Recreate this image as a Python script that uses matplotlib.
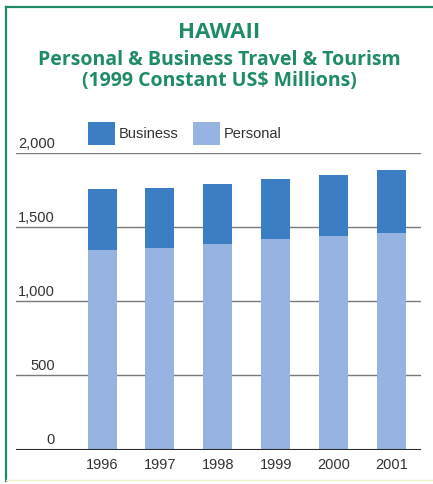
import matplotlib
matplotlib.use("Agg")
import matplotlib.pyplot as plt
from matplotlib.lines import Line2D
import numpy as np

# Hawaii travel & tourism spending, 1999 constant US$ millions
years = ["1996", "1997", "1998", "1999", "2000", "2001"]
personal = [1347, 1363, 1388, 1419, 1440, 1464]
business = [412, 405, 407, 405, 415, 421]
y_ticks = [0, 500, 1000, 1500, 2000]

GREEN = "#1f8c66"
BUS_COLOR = "#3b7ec3"
PER_COLOR = "#96b3e1"
TEXT = "#333333"

fig = plt.figure(figsize=(4.33, 4.84), dpi=100)
W, H = 433, 484

# frame on the left and top
fig.add_artist(Line2D([6 / W, 6 / W], [1 - 7 / H, 1 - 481 / H], color=GREEN, lw=1.6,
                      transform=fig.transFigure))
fig.add_artist(Line2D([6 / W, 1.0], [1 - 7 / H, 1 - 7 / H], color=GREEN, lw=1.6,
                      transform=fig.transFigure))
fig.add_artist(Line2D([6 / W, 1.0], [1 - 480 / H, 1 - 480 / H], color="#eef0c8", lw=1.0,
                      transform=fig.transFigure))

fig.text(219 / W, 1 - 32 / H, "HAWAII", ha="center", va="center", color=GREEN,
         fontsize=16, fontweight="bold", family="Open Sans")
fig.text(219 / W, 1 - 60 / H, "Personal & Business Travel & Tourism", ha="center",
         va="center", color=GREEN, fontsize=14, fontweight="bold", family="Open Sans")
fig.text(219 / W, 1 - 81 / H, "(1999 Constant US$ Millions)", ha="center",
         va="center", color=GREEN, fontsize=14, fontweight="bold", family="Open Sans")

ax_left, ax_right = 15.7, 420.7
ax_bottom, ax_top = 449.5, 153.3
ax = fig.add_axes([ax_left / W, 1 - ax_bottom / H, (ax_right - ax_left) / W,
                   (ax_bottom - ax_top) / H])

x = np.arange(len(years))
bw = 0.5
ax.set_axisbelow(True)
for v in y_ticks[1:]:
    ax.axhline(v, color="#7a7a7a", lw=1.0, zorder=0)
p = ax.bar(x, personal, bw, color=PER_COLOR, label="Personal", zorder=2)
b = ax.bar(x, business, bw, bottom=personal, color=BUS_COLOR, label="Business", zorder=2)
ax.axhline(0, color="#2a2a2a", lw=1.5, zorder=3)

ax.set_xlim(-1.49, 5.5)
ax.set_ylim(0, 2000)
for s in ax.spines.values():
    s.set_visible(False)
ax.set_yticks([])
ax.set_xticks(x)
ax.set_xticklabels(years, fontsize=10.5, color=TEXT, family="Liberation Sans")
ax.tick_params(axis="x", length=0, pad=6)
ax.patch.set_alpha(0)

# value labels sit on top of their gridlines, right-aligned
lab_x = (55 - ax_left) / (ax_right - ax_left)
for v in y_ticks:
    ax.text(lab_x, v + 14, f"{v:,}", transform=ax.get_yaxis_transform(), ha="right",
            va="bottom", fontsize=10.5, color=TEXT, family="Liberation Sans")

leg = ax.legend(handles=[b, p], loc="upper left", ncol=2, frameon=False,
                bbox_to_anchor=(88 / W, 1 - 122 / H), bbox_transform=fig.transFigure,
                handlelength=1.85, handleheight=2.05, handletextpad=0.25,
                columnspacing=1.0, borderpad=0, borderaxespad=0,
                prop={"family": "Liberation Sans", "size": 10.5})
for t in leg.get_texts():
    t.set_color(TEXT)

fig.savefig("out.png", dpi=100, facecolor="white")
